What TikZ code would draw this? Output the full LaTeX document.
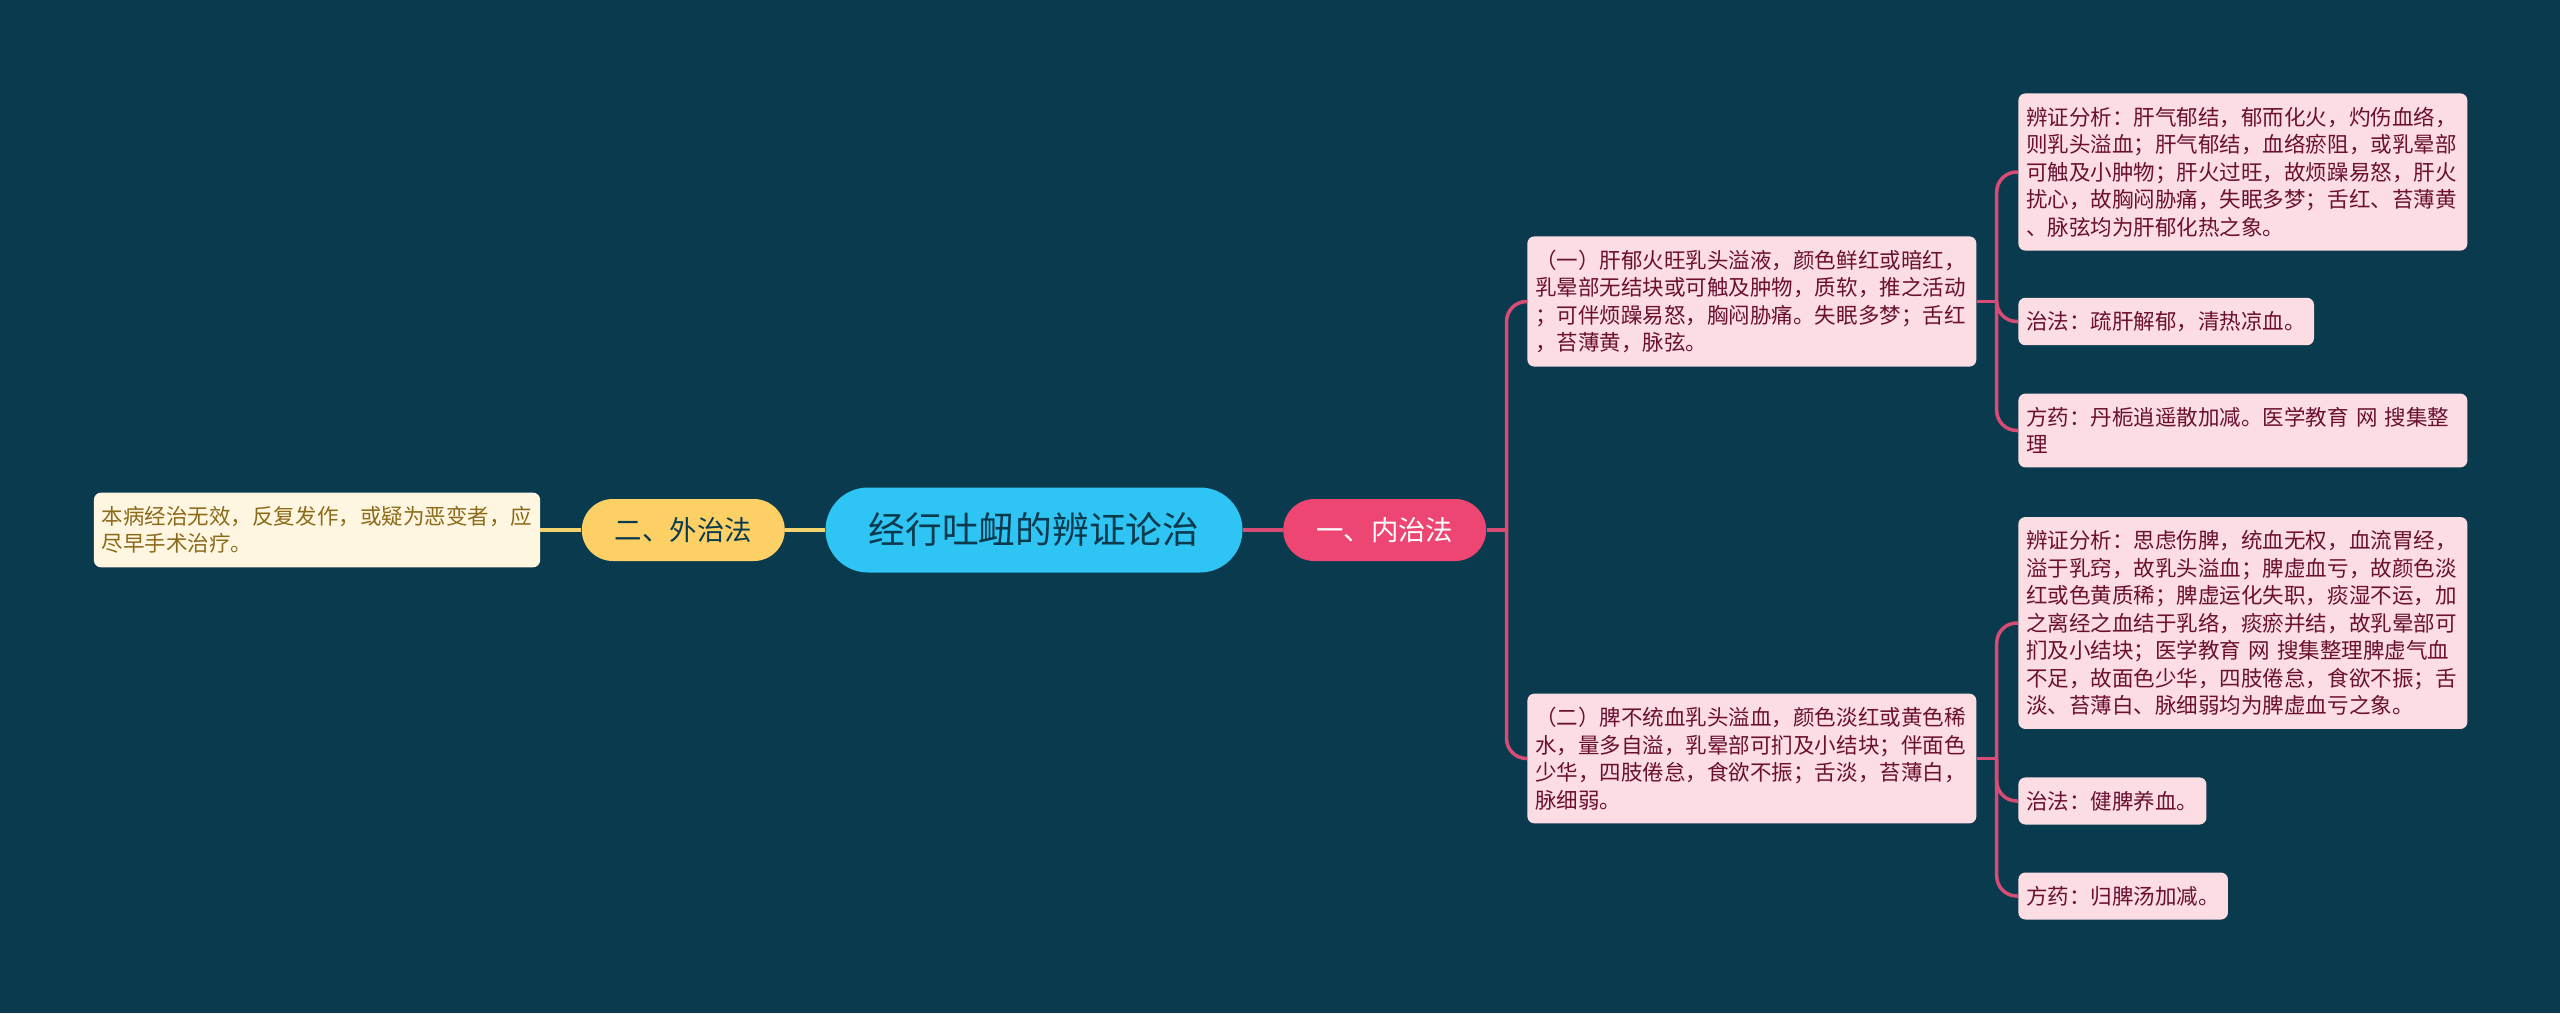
\documentclass[tikz,border=0pt]{standalone}
\usepackage{fontspec}
\setmainfont{Noto Sans CJK SC}
\usepackage{tikz}
\usetikzlibrary{positioning,calc}

\definecolor{bgnavy}{HTML}{0A3A4E}
\definecolor{rootblue}{HTML}{2EC4F3}
\definecolor{neired}{HTML}{EE4672}
\definecolor{waiyellow}{HTML}{FCD065}
\definecolor{leafcream}{HTML}{FEF6E0}
\definecolor{leaftext}{HTML}{8C6A1A}
\definecolor{boxpink}{HTML}{FBDDE3}
\definecolor{boxtext}{HTML}{6B1030}
\definecolor{linkpink}{HTML}{D64C74}
\definecolor{linkyellow}{HTML}{F3D36E}

\begin{document}
\begin{tikzpicture}[
    node distance=0.8cm,
    topic/.style={rectangle, fill=rootblue, text=bgnavy, minimum width=8.34cm, minimum height=1.7cm, rounded corners=0.85cm, font=\fontsize{20.9}{24}\selectfont},
    branch/.style={rectangle, minimum width=4.06cm, minimum height=1.24cm, rounded corners=0.62cm, font=\fontsize{15.6}{18}\selectfont},
    detail/.style={rectangle, fill=boxpink, text=boxtext, rounded corners=0.14cm, align=left, inner xsep=0.16cm, inner ysep=0.27cm, font=\fontsize{12.24}{15.65}\selectfont},
    wide/.style={detail, text width=8.66cm},
    redlink/.style={draw=linkpink, line width=0.07cm, rounded corners=0.4cm},
    yellowlink/.style={draw=linkyellow, line width=0.07cm}
]
    % background
    \fill[bgnavy] (0,0) rectangle (51.2,-20.26);

    \node[topic] (root) at (20.68,-10.6) {经行吐衄的辨证论治};
    \node[branch, fill=neired, text=white, right=of root] (nei) {一、内治法};
    \node[branch, fill=waiyellow, text=bgnavy, left=of root] (wai) {二、外治法};
    \node[detail, fill=leafcream, text=leaftext, left=0.82cm of wai] (cure) {本病经治无效，反复发作，或疑为恶变者，应\\尽早手术治疗。};

    \node[wide, anchor=west] (gan) at (30.54,-6.03) {（一）肝郁火旺乳头溢液，颜色鲜红或暗红，\\乳晕部无结块或可触及肿物，质软，推之活动\\；可伴烦躁易怒，胸闷胁痛。失眠多梦；舌红\\，苔薄黄，脉弦。};
    \node[wide, anchor=west] (pi) at (30.54,-15.17) {（二）脾不统血乳头溢血，颜色淡红或黄色稀\\水，量多自溢，乳晕部可扪及小结块；伴面色\\少华，四肢倦怠，食欲不振；舌淡，苔薄白，\\脉细弱。};

    \node[wide, anchor=west] (ganfx) at (40.36,-3.44) {辨证分析：肝气郁结，郁而化火，灼伤血络，\\则乳头溢血；肝气郁结，血络瘀阻，或乳晕部\\可触及小肿物；肝火过旺，故烦躁易怒，肝火\\扰心，故胸闷胁痛，失眠多梦；舌红、苔薄黄\\、脉弦均为肝郁化热之象。};
    \node[detail, anchor=west] (ganzf) at (40.36,-6.43) {治法：疏肝解郁，清热凉血。};
    \node[wide, anchor=west] (ganfy) at (40.36,-8.61) {方药：丹栀逍遥散加减。医学教育 网 搜集整\\理};

    \node[wide, anchor=west] (pifx) at (40.36,-12.46) {辨证分析：思虑伤脾，统血无权，血流胃经，\\溢于乳窍，故乳头溢血；脾虚血亏，故颜色淡\\红或色黄质稀；脾虚运化失职，痰湿不运，加\\之离经之血结于乳络，痰瘀并结，故乳晕部可\\扪及小结块；医学教育 网 搜集整理脾虚气血\\不足，故面色少华，四肢倦怠，食欲不振；舌\\淡、苔薄白、脉细弱均为脾虚血亏之象。};
    \node[detail, anchor=west] (pizf) at (40.36,-16.02) {治法：健脾养血。};
    \node[detail, anchor=west] (pify) at (40.36,-17.92) {方药：归脾汤加减。};

    % links
    \draw[yellowlink] (root.west) -- (wai.east);
    \draw[yellowlink] (wai.west) -- (cure.east);
    \draw[redlink] (root.east) -- (nei.west);

    \coordinate (j0) at ($(nei.east)+(0.4,0)$);
    \draw[redlink] (nei.east) -- (j0);
    \draw[redlink] (j0) |- (gan.west);
    \draw[redlink] (j0) |- (pi.west);

    \coordinate (j1) at ($(gan.east)+(0.4,0)$);
    \draw[redlink] (gan.east) -- (j1);
    \draw[redlink] (j1) |- (ganfx.west);
    \draw[redlink] (j1) |- (ganzf.west);
    \draw[redlink] (j1) |- (ganfy.west);

    \coordinate (j2) at ($(pi.east)+(0.4,0)$);
    \draw[redlink] (pi.east) -- (j2);
    \draw[redlink] (j2) |- (pifx.west);
    \draw[redlink] (j2) |- (pizf.west);
    \draw[redlink] (j2) |- (pify.west);
\end{tikzpicture}
\end{document}
